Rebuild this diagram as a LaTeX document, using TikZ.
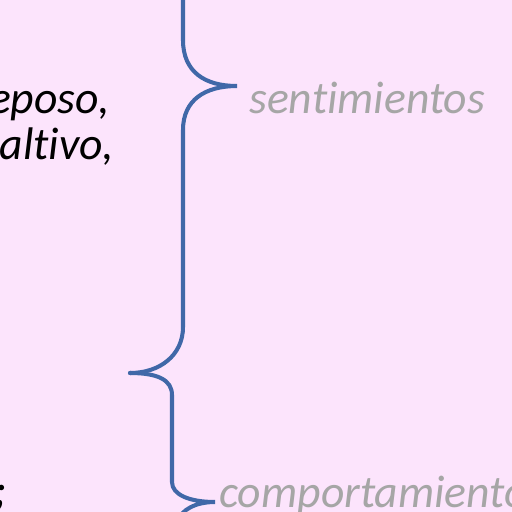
\documentclass[tikz,border=0pt]{standalone}
\usepackage{fontspec}
\setmainfont{Carlito}[Ligatures=NoCommon]
\usetikzlibrary{positioning}

\definecolor{slidebg}{RGB}{252,228,252}
\definecolor{bracecol}{RGB}{64,104,168}
\definecolor{labelgray}{RGB}{166,166,166}

\begin{document}
\begin{tikzpicture}[x=0.02cm,y=-0.02cm,
    brace/.style={draw=bracecol,line width=2.3pt,line cap=round},
    txt/.style={font=\itshape\fontsize{26}{30}\selectfont,inner sep=0pt},
    lbl/.style={txt,text=labelgray}]
  \fill[slidebg] (0,0) rectangle (512,512);
  \useasboundingbox (0,0) rectangle (512,512);
  \clip (0,0) rectangle (512,512);

  % left column, cut off by the frame
  \node[txt,anchor=base east] (reposo) at (110,113) {eposo,};
  \node[txt,anchor=base east] (altivo) at (114,159) {altivo,};
  \node[txt,anchor=base east] (semi) at (7,505) {;};

  % labels
  \node[lbl,anchor=base west] (sent) at (249,113) {sentimientos};
  \node[lbl,anchor=base west] (comp) at (219,507) {comportamiento};

  % braces
  \draw[brace] (183,-5) -- (183,40)
      .. controls (183,72) and (205,86) .. (237,86)
      .. controls (205,86) and (183,100) .. (183,130)
      -- (183,327)
      .. controls (183,355) and (160,373) .. (130,373);
  \draw[brace] (130,373)
      .. controls (158,373) and (172,380) .. (172,395)
      -- (172,482)
      .. controls (172,495) and (190,502) .. (215,502)
      .. controls (195,502) and (182,510) .. (178,520);
\end{tikzpicture}
\end{document}
